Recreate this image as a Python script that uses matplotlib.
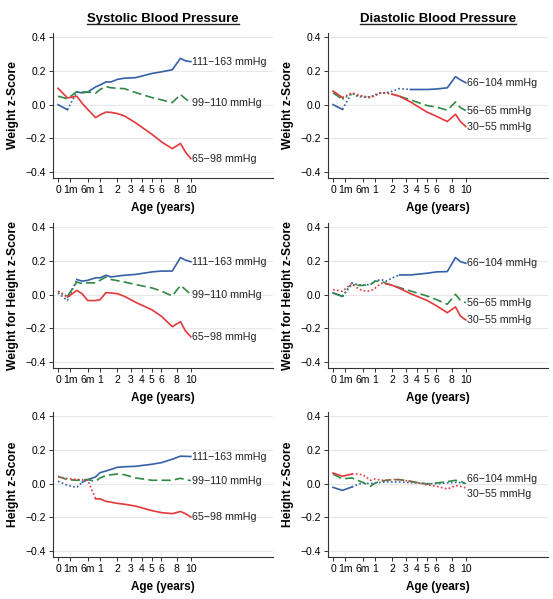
import matplotlib
matplotlib.use('agg')
import matplotlib.pyplot as plt
from matplotlib.lines import Line2D
import numpy as np

plt.rcParams['font.family'] = ['Liberation Sans', 'DejaVu Sans']

# common age grid (years) the curves were read at
ages = [0, 0.05, 0.2, 0.33, 0.5, 0.8, 1.0, 1.3, 1.6, 2.0, 2.5, 3.4, 5.0, 6.1, 7.4, 8.5, 9.2, 10]

tick_ages = [0, 1/12, 0.5, 1, 2, 3, 4, 5, 6, 8, 10]
tick_labels = ['0', '1m', '6m', '1', '2', '3', '4', '5', '6', '8', '10']

sbp_groups = ['111−163 mmHg', '99−110 mmHg', '65−98 mmHg']
dbp_groups = ['66−104 mmHg', '56−65 mmHg', '30−55 mmHg']
col_titles = ['Systolic Blood Pressure', 'Diastolic Blood Pressure']
row_labels = ['Weight z-Score', 'Weight for Height z-Score', 'Height z-Score']

# weight z-score, SBP
w_sbp_hi = [0.0, -0.03, 0.075, 0.07, 0.075, 0.105, 0.117, 0.135, 0.135, 0.15, 0.157, 0.16, 0.185, 0.195, 0.207, 0.275, 0.26, 0.255]
w_sbp_mid = [0.05, 0.035, 0.077, 0.075, 0.075, 0.068, 0.09, 0.107, 0.1, 0.097, 0.095, 0.072, 0.042, 0.028, 0.012, 0.06, 0.035, 0.012]
w_sbp_lo = [0.097, 0.04, 0.05, 0.008, -0.028, -0.077, -0.061, -0.044, -0.046, -0.053, -0.067, -0.107, -0.176, -0.222, -0.261, -0.23, -0.281, -0.32]
# weight z-score, DBP
w_dbp_hi = [0.0, -0.028, 0.07, 0.05, 0.045, 0.045, 0.06, 0.07, 0.07, 0.08, 0.095, 0.09, 0.09, 0.093, 0.1, 0.166, 0.147, 0.13]
w_dbp_mid = [0.07, 0.032, 0.065, 0.055, 0.05, 0.045, 0.055, 0.07, 0.07, 0.062, 0.05, 0.028, -0.005, -0.015, -0.033, 0.016, -0.018, -0.035]
w_dbp_lo = [0.081, 0.042, 0.071, 0.06, 0.05, 0.04, 0.055, 0.07, 0.07, 0.061, 0.05, 0.016, -0.044, -0.07, -0.1, -0.057, -0.1, -0.13]
# weight for height z-score, SBP
wfh_sbp_hi = [0.01, -0.035, 0.09, 0.08, 0.085, 0.1, 0.1, 0.115, 0.105, 0.11, 0.115, 0.12, 0.135, 0.14, 0.14, 0.22, 0.205, 0.195]
wfh_sbp_mid = [0.02, -0.01, 0.075, 0.065, 0.07, 0.07, 0.085, 0.105, 0.09, 0.083, 0.075, 0.06, 0.04, 0.02, -0.008, 0.055, 0.03, 0.0]
wfh_sbp_lo = [0.02, -0.015, 0.025, 0.005, -0.035, -0.035, -0.03, 0.012, 0.01, 0.006, -0.01, -0.045, -0.09, -0.13, -0.19, -0.16, -0.215, -0.25]
# weight for height z-score, DBP
wfh_dbp_hi = [0.01, -0.01, 0.07, 0.06, 0.055, 0.062, 0.08, 0.09, 0.08, 0.1, 0.117, 0.117, 0.127, 0.135, 0.137, 0.22, 0.196, 0.186]
wfh_dbp_mid = [0.01, -0.01, 0.06, 0.055, 0.055, 0.06, 0.08, 0.08, 0.067, 0.055, 0.042, 0.022, -0.008, -0.03, -0.057, 0.002, -0.034, -0.048]
wfh_dbp_lo = [0.03, 0.02, 0.067, 0.04, 0.022, 0.022, 0.038, 0.067, 0.065, 0.055, 0.038, 0.006, -0.034, -0.067, -0.107, -0.073, -0.127, -0.15]
# height z-score, SBP
h_sbp_hi = [0.014, -0.01, -0.022, 0.008, 0.024, 0.04, 0.065, 0.075, 0.085, 0.097, 0.1, 0.103, 0.115, 0.125, 0.145, 0.163, 0.162, 0.161]
h_sbp_mid = [0.043, 0.024, 0.02, 0.024, 0.024, 0.014, 0.034, 0.048, 0.053, 0.057, 0.053, 0.034, 0.02, 0.02, 0.02, 0.032, 0.024, 0.018]
h_sbp_lo = [0.04, 0.03, 0.025, 0.022, 0.02, -0.09, -0.09, -0.105, -0.11, -0.117, -0.122, -0.133, -0.16, -0.172, -0.178, -0.165, -0.178, -0.198]
# height z-score, DBP
h_dbp_hi = [-0.022, -0.04, -0.02, -0.006, 0.004, 0.0, 0.004, 0.008, 0.01, 0.01, 0.01, 0.006, 0.0, 0.0, 0.004, 0.008, 0.006, 0.0]
h_dbp_mid = [0.057, 0.028, 0.034, 0.02, 0.008, -0.016, 0.004, 0.014, 0.02, 0.024, 0.024, 0.014, -0.002, 0.004, 0.012, 0.02, 0.014, 0.0]
h_dbp_lo = [0.063, 0.044, 0.057, 0.057, 0.053, 0.02, 0.028, 0.02, 0.02, 0.024, 0.024, 0.014, -0.006, -0.016, -0.032, -0.012, -0.016, -0.026]

# age ranges where the estimate is not significant (drawn dotted)
ns_w_sbp = [[(0.05, 0.2)], [], []]
ns_w_dbp = [[(0.05, 3.0)], [(0.05, 2.5)], [(0.05, 2.0)]]
ns_wfh_sbp = [[(0, 0.2)], [(0, 0.1)], [(0, 0.1)]]
ns_wfh_dbp = [[(0.05, 2.4)], [(0.05, 0.33)], [(0, 1.6)]]
ns_h_sbp = [[(0, 0.33)], [], [(0, 0.8)]]
ns_h_dbp = [[(0.2, 10)], [], [(0.2, 10)]]

panels = [
    [(w_sbp_hi, w_sbp_mid, w_sbp_lo, ns_w_sbp), (w_dbp_hi, w_dbp_mid, w_dbp_lo, ns_w_dbp)],
    [(wfh_sbp_hi, wfh_sbp_mid, wfh_sbp_lo, ns_wfh_sbp), (wfh_dbp_hi, wfh_dbp_mid, wfh_dbp_lo, ns_wfh_dbp)],
    [(h_sbp_hi, h_sbp_mid, h_sbp_lo, ns_h_sbp), (h_dbp_hi, h_dbp_mid, h_dbp_lo, ns_h_dbp)],
]

colors = ['#3560a8', '#2f8a45', '#e5383b']
main_ls = ['-', (0, (5.5, 2.5)), '-']
dot_ls = (0, (1, 1.4))


def fwd(x):
    return np.sign(x) * np.sqrt(np.abs(x))


def inv(y):
    return np.sign(y) * y ** 2


def draw(ax, vals, nonsig, color, ls):
    a = np.array(ages)
    v = np.array(vals)
    mids = (a[:-1] + a[1:]) / 2
    dotted = np.zeros(len(mids), bool)
    for lo, hi in nonsig:
        dotted |= (mids > lo) & (mids < hi)
    start = 0
    for i in range(1, len(mids) + 1):
        if i == len(mids) or dotted[i] != dotted[start]:
            ax.plot(a[start:i + 1], v[start:i + 1], color=color,
                    ls=dot_ls if dotted[start] else ls, lw=1.2)
            start = i


fig = plt.figure(figsize=(5.53, 5.99), dpi=100)
lefts = [53 / 553, 328 / 553]
bottoms = [1 - 178 / 599, 1 - 368 / 599, 1 - 557 / 599]
titles = []
for r in range(3):
    for c in range(2):
        ax = fig.add_axes([lefts[c], bottoms[r], 220 / 553, 145 / 599])
        ax.set_xscale('function', functions=(fwd, inv))
        ax.set_xlim(-0.0144, 26.2)
        ax.set_ylim(-0.435, 0.425)
        ax.set_yticks([-0.4, -0.2, 0, 0.2, 0.4])
        ax.set_yticklabels(['−0.4', '−0.2', '0.0', '0.2', '0.4'])
        ax.set_xticks(tick_ages)
        ax.set_xticklabels(tick_labels)
        ax.minorticks_off()
        ax.grid(axis='y', color='#e8e8e8', lw=0.8)
        ax.set_axisbelow(True)
        for s in ['top', 'right']:
            ax.spines[s].set_visible(False)
        for s in ['left', 'bottom']:
            ax.spines[s].set_color('#333333')
            ax.spines[s].set_linewidth(0.8)
        ax.tick_params(labelsize=7.5, length=3, width=0.7, color='#333333', pad=2)
        ax.set_ylabel(row_labels[r], fontsize=8.7, fontweight='bold', labelpad=5)
        ax.set_xlabel('Age (years)', fontsize=8.4, fontweight='bold', labelpad=5)

        series = panels[r][c]
        names = sbp_groups if c == 0 else dbp_groups
        for k in range(3):
            draw(ax, series[k], series[3][k], colors[k], main_ls[k])
        for k in range(3):
            y = series[k][-1]
            if r == 2 and c == 1:
                if k == 1:
                    continue
                y += 0.025 if k == 0 else -0.033
            ax.text(10.15, y, names[k], fontsize=7.7, ha='left', va='center', color='#222222')
        if r == 0:
            titles.append(ax.set_title(col_titles[c], fontsize=9.5, fontweight='bold', pad=8))

fig.canvas.draw()
renderer = fig.canvas.get_renderer()
for t in titles:
    bb = t.get_window_extent(renderer)
    (x0, y0), (x1, y1) = fig.transFigure.inverted().transform([[bb.x0, bb.y0], [bb.x1, bb.y1]])
    fig.add_artist(Line2D([x0, x1], [y0 + 0.001, y0 + 0.001], color='#222222', lw=1.0,
                          transform=fig.transFigure))

fig.savefig('out.png', dpi=100)
